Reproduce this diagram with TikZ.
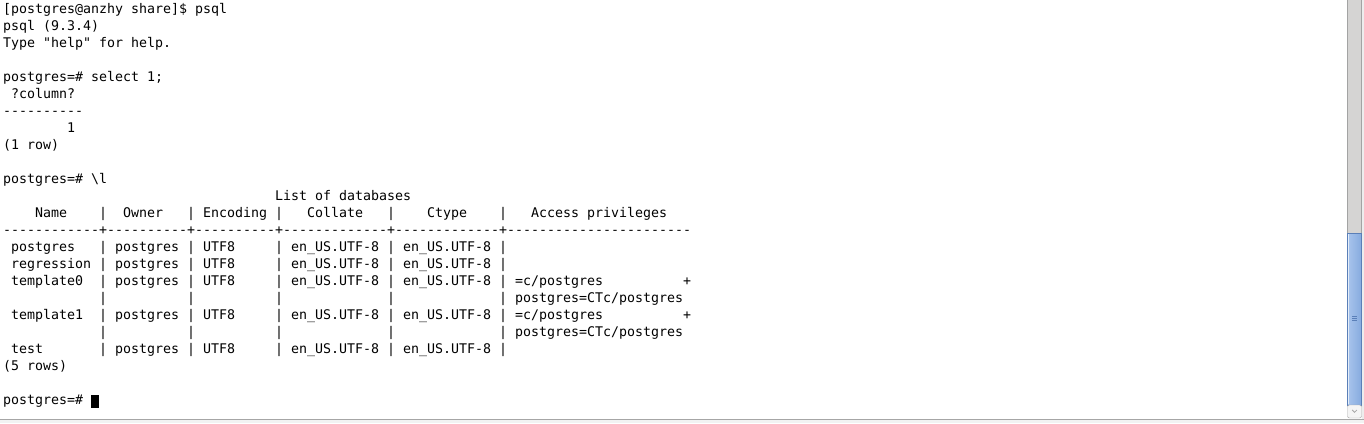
\documentclass[tikz,border=0pt]{standalone}
\usepackage{fontspec}
\setmonofont{DejaVu Sans Mono}
\definecolor{trough}{HTML}{D5D4D3}
\definecolor{troughedge}{HTML}{A3A3A3}
\definecolor{thumbA}{HTML}{A9C5EC}
\definecolor{thumbB}{HTML}{86AADE}
\definecolor{thumbedge}{HTML}{5A7FB8}
\definecolor{frame}{HTML}{A6A6A6}
\tikzset{
  term/.style={anchor=base west, inner sep=0pt, outer sep=0pt,
    font=\ttfamily\fontsize{13.29}{17}\selectfont, text=black},
}
\begin{document}
\begin{tikzpicture}[x=1pt,y=-1pt]
\useasboundingbox (0,0) rectangle (1364,423);
\fill[white] (0,0) rectangle (1364,423);
% terminal lines (baseline = 13 + 17(n-1))
\node[term] (l1)  at (3,13)  {[postgres@anzhy~share]\$~psql};
\node[term] (l2)  at (3,30)  {psql~(9.3.4)};
\node[term] (l3)  at (3,47)  {Type~"help"~for~help.};
\node[term] (l5)  at (3,81)  {postgres=\#~select~1;};
\node[term] (l6)  at (3,98)  {~?column?~};
\node[term] (l7)  at (3,115) {----------};
\node[term] (l8)  at (3,132) {~~~~~~~~1};
\node[term] (l9)  at (3,149) {(1~row)};
\node[term] (l11) at (3,183) {postgres=\#~\textbackslash l};
\node[term] (l12) at (3,200) {~~~~~~~~~~~~~~~~~~~~~~~~~~~~~~~~~~List~of~databases};
\node[term] (l13) at (3,217) {~~~~Name~~~~|~~Owner~~~|~Encoding~|~~~Collate~~~|~~~~Ctype~~~~|~~~Access~privileges~~~};
\node[term] (l14) at (3,234) {------------+----------+----------+-------------+-------------+-----------------------};
\node[term] (l15) at (3,251) {~postgres~~~|~postgres~|~UTF8~~~~~|~en\_US.UTF-8~|~en\_US.UTF-8~|~};
\node[term] (l16) at (3,268) {~regression~|~postgres~|~UTF8~~~~~|~en\_US.UTF-8~|~en\_US.UTF-8~|~};
\node[term] (l17) at (3,285) {~template0~~|~postgres~|~UTF8~~~~~|~en\_US.UTF-8~|~en\_US.UTF-8~|~=c/postgres~~~~~~~~~~+};
\node[term] (l18) at (3,302) {~~~~~~~~~~~~|~~~~~~~~~~|~~~~~~~~~~|~~~~~~~~~~~~~|~~~~~~~~~~~~~|~postgres=CTc/postgres};
\node[term] (l19) at (3,319) {~template1~~|~postgres~|~UTF8~~~~~|~en\_US.UTF-8~|~en\_US.UTF-8~|~=c/postgres~~~~~~~~~~+};
\node[term] (l20) at (3,336) {~~~~~~~~~~~~|~~~~~~~~~~|~~~~~~~~~~|~~~~~~~~~~~~~|~~~~~~~~~~~~~|~postgres=CTc/postgres};
\node[term] (l21) at (3,353) {~test~~~~~~~|~postgres~|~UTF8~~~~~|~en\_US.UTF-8~|~en\_US.UTF-8~|~};
\node[term] (l22) at (3,370) {(5~rows)};
\node[term] (l24) at (3,404) {postgres=\#~};
% cursor
\fill[black] (91,394.5) rectangle (99,408);
% scrollbar trough
\fill[trough] (1347.5,0) rectangle (1361.5,405);
\draw[troughedge] (1347.5,0) -- (1347.5,405);
\draw[troughedge] (1361.5,0) -- (1361.5,405);
\fill[white!93!black] (1362,0) rectangle (1364,419);
% thumb
\shade[left color=thumbA, right color=thumbB, draw=thumbedge]
  (1347.5,233) rectangle (1361.5,405);
\draw[white!70!thumbA] (1348.6,234.2) -- (1348.6,404);
\foreach \gy in {316,318.4,320.8}
  \draw[thumbedge, line width=0.8pt] (1352.3,\gy) -- (1356.5,\gy);
% down button
\draw[frame, fill=white!96!black, rounded corners=2pt]
  (1347.5,405) -- (1347.5,418) -- (1361.5,418) -- (1361.5,405) -- cycle;
\draw[gray!70, line width=0.8pt] (1352.2,410) -- (1354.5,412.3) -- (1356.8,410);
% bottom frame line
\fill[white!95!black] (0,419) rectangle (1364,423);
\draw[frame, line width=1pt] (0,419.5) -- (1364,419.5);
\end{tikzpicture}
\end{document}
